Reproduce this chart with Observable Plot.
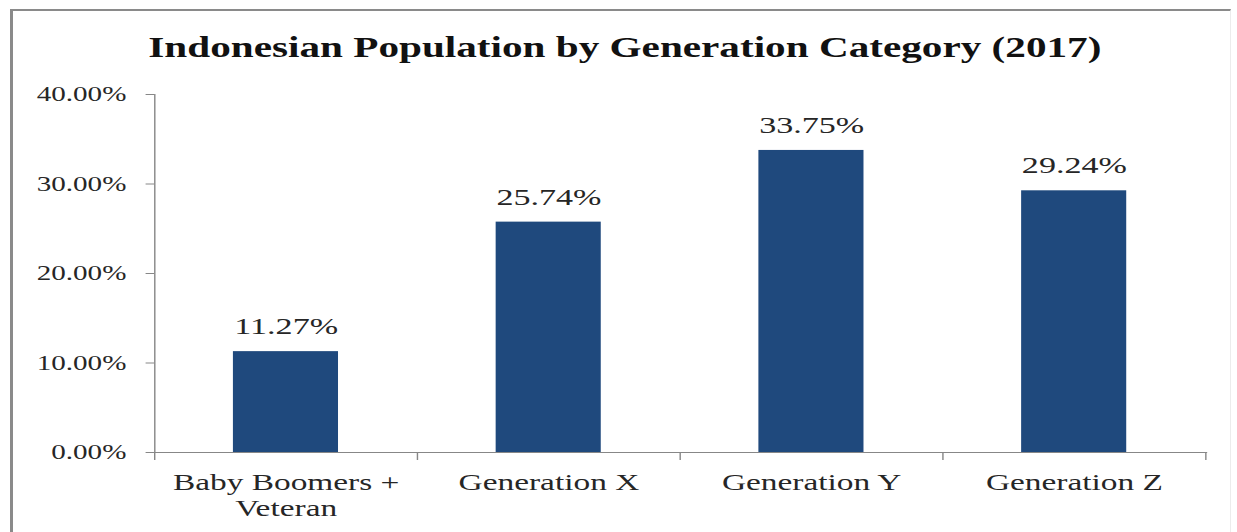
<!DOCTYPE html>
<html>
<head>
<meta charset="utf-8">
<script src="https://cdn.jsdelivr.net/npm/d3@7"></script>
<script src="https://cdn.jsdelivr.net/npm/@observablehq/plot@0.6"></script>
<style>
  html, body { margin: 0; padding: 0; background: #fff; }
  #wrap { position: relative; width: 1237px; height: 532px; overflow: hidden; background: #fff; }
  #border { position: absolute; left: 10px; top: 9px; width: 1217px; height: 540px;
            border-left: 3px solid #8a8a8a; border-top: 2px solid #8a8a8a; border-right: 1px solid #ececec; }
  #stretch { position: absolute; left: 0; top: 0; height: 532px; transform-origin: 0 0; }
  #title { position: absolute; left: 0; top: 33px; width: 880px; text-align: center;
           font-family: 'Liberation Serif', 'Times New Roman', serif; font-weight: bold;
           font-size: 29px; line-height: 1; color: #111; white-space: nowrap; }
</style>
</head>
<body>
<div id="wrap">
  <div id="border"></div>
  <div id="stretch">
    <div id="title">Indonesian Population by Generation Category (2017)</div>
  </div>
</div>
<script>
const categories = ["Baby Boomers + Veteran", "Generation X", "Generation Y", "Generation Z"];
const values = [11.27, 25.74, 33.75, 29.24];
const yTicks = [0, 10, 20, 30, 40];

const data = categories.map((c, i) => ({gen: c, value: values[i]}));

const FULL_W = 1237;
const S = 1.42;                 // horizontal stretch of the original picture
const W = Math.round(FULL_W / S);
const H = 532;
const ml = 108.5, mr = 22, mt = 94, mb = 80;
const pInner = 0.6, pOuter = 0.3;
const step = (W - ml - mr) / (categories.length - pInner + 2 * pOuter);

const axisGray = "#878787";
const textColor = "#262626";
const pct = d => d.toFixed(2) + "%";

const chart = Plot.plot({
  width: W,
  height: H,
  marginLeft: ml,
  marginRight: mr,
  marginTop: mt,
  marginBottom: mb,
  style: {
    fontFamily: "'Liberation Serif', 'Times New Roman', serif",
    fontSize: "20px",
    color: textColor,
    background: "transparent",
    overflow: "visible"
  },
  x: {domain: categories, paddingInner: pInner, paddingOuter: pOuter, label: null},
  y: {domain: [0, 40], label: null},
  marks: [
    Plot.barY(data, {x: "gen", y: "value", fill: "#1F497D"}),
    Plot.frame({anchor: "left", stroke: axisGray}),
    Plot.frame({anchor: "bottom", stroke: axisGray}),
    Plot.axisY({ticks: yTicks, tickFormat: pct, tickSize: 6, tickPadding: 14,
                fontSize: 20.5, stroke: axisGray, fill: textColor, label: null}),
    // category boundary ticks
    Plot.axisX({tickSize: 8, tickFormat: () => "", stroke: axisGray, dx: -step / 2, label: null}),
    Plot.axisX({ticks: [categories[categories.length - 1]], tickSize: 8, tickFormat: () => "",
                stroke: axisGray, dx: step / 2, label: null}),
    // category labels
    Plot.axisX({tickSize: 0, tickPadding: 19, fontSize: 23.5, lineHeight: 1.1,
                tickFormat: d => d.replace(" + ", " +\n"), fill: textColor, label: null}),
    Plot.text(data, {x: "gen", y: "value", text: d => pct(d.value), dy: -25,
                     fontSize: 24, fill: textColor})
  ]
});

const stretch = document.getElementById("stretch");
stretch.style.width = W + "px";
stretch.style.transform = `scaleX(${FULL_W / W})`;
chart.style.position = "absolute";
chart.style.left = "0";
chart.style.top = "0";
stretch.appendChild(chart);
</script>
</body>
</html>
